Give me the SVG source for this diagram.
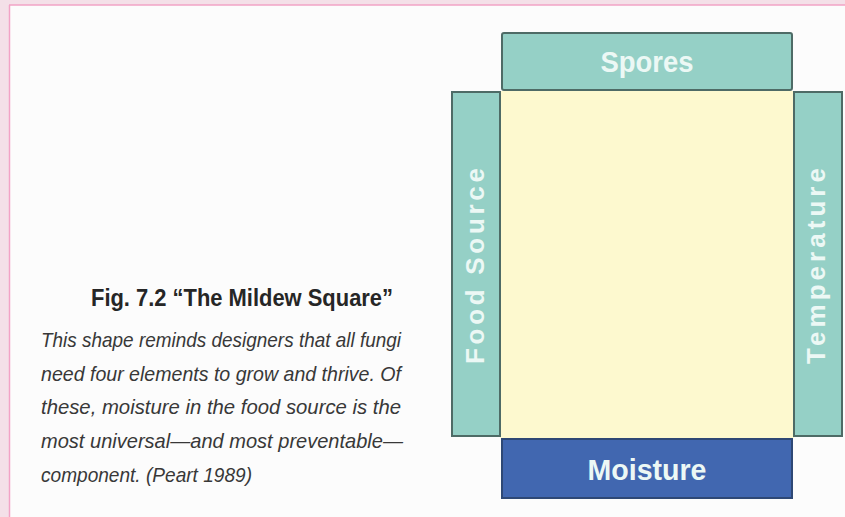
<svg xmlns="http://www.w3.org/2000/svg" width="845" height="517" viewBox="0 0 845 517">
  <style>
    .teal { fill: #95d0c6; stroke: #4e6b66; stroke-width: 2; }
    .blue { fill: #4167b0; stroke: #2e4875; stroke-width: 2; }
    .lbl { font-family: "Liberation Sans", Arial, sans-serif; font-weight: bold; fill: #ecf8f5; text-anchor: middle; }
    .body { font-family: "Liberation Sans", Arial, sans-serif; font-style: italic; font-size: 21px; fill: #383838; }
    .title { font-family: "Liberation Sans", Arial, sans-serif; font-weight: bold; font-size: 23px; fill: #262626; }
  </style>
  <rect x="0" y="0" width="845" height="517" fill="#f4e0e8"/>
  <rect x="9" y="5" width="836" height="512" fill="#fcfcfc"/>
  <line x1="9" y1="5" x2="845" y2="5" stroke="#f2a3c6" stroke-width="1.5"/>
  <line x1="9.5" y1="5" x2="9.5" y2="517" stroke="#f2a3c6" stroke-width="1.5"/>

  <g id="caption">
    <text class="title" x="91" y="306" textLength="302" lengthAdjust="spacingAndGlyphs">Fig. 7.2  “The Mildew Square”</text>
    <text class="body" x="41" y="347" textLength="360" lengthAdjust="spacingAndGlyphs">This shape reminds designers that all fungi</text>
    <text class="body" x="41" y="381" textLength="360" lengthAdjust="spacingAndGlyphs">need four elements to grow and thrive. Of</text>
    <text class="body" x="41" y="414" textLength="360" lengthAdjust="spacingAndGlyphs">these, moisture in the food source is the</text>
    <text class="body" x="41" y="448" textLength="362" lengthAdjust="spacingAndGlyphs">most universal—and most preventable—</text>
    <text class="body" x="41" y="482" textLength="211" lengthAdjust="spacingAndGlyphs">component. (Peart 1989)</text>
  </g>

  <g id="center">
    <rect x="500" y="91" width="294" height="347" fill="#fdf9cf"/>
  </g>

  <g id="spores">
    <rect class="teal" x="502" y="33" width="290" height="57" rx="2"/>
    <text class="lbl" x="647" y="72" font-size="29" textLength="93" lengthAdjust="spacingAndGlyphs">Spores</text>
  </g>

  <g id="food-source">
    <rect class="teal" x="452" y="92" width="48" height="344"/>
    <text class="lbl" transform="translate(474,266) rotate(-90)" x="0" y="9.5" font-size="26" textLength="196" lengthAdjust="spacing">Food Source</text>
  </g>

  <g id="temperature">
    <rect class="teal" x="794" y="92" width="48" height="344"/>
    <text class="lbl" transform="translate(815,266) rotate(-90)" x="0" y="9.5" font-size="26" textLength="196" lengthAdjust="spacing">Temperature</text>
  </g>

  <g id="moisture">
    <rect class="blue" x="502" y="439" width="290" height="59"/>
    <text class="lbl" x="647" y="480" font-size="30" fill="#eef1f8" textLength="119" lengthAdjust="spacingAndGlyphs">Moisture</text>
  </g>

  <g id="connectors"/>
</svg>
